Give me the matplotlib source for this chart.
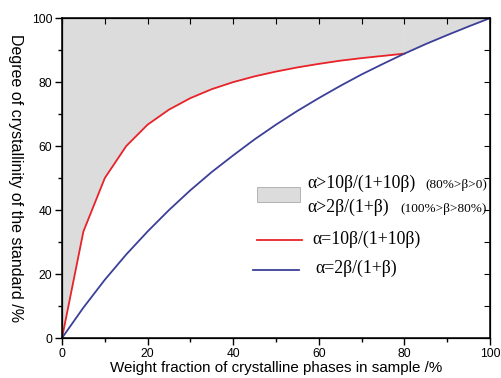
import matplotlib
matplotlib.use("Agg")
import matplotlib.pyplot as plt
import numpy as np
from matplotlib.patches import Rectangle
from matplotlib.ticker import MultipleLocator

# values
beta_red = [0, 5, 10, 15, 20, 25, 30, 35, 40, 45, 50, 55, 60, 65, 70, 75, 80]
alpha_red = [0, 33.3, 50.0, 60.0, 66.7, 71.4, 75.0, 77.8, 80.0, 81.8, 83.3,
             84.6, 85.7, 86.7, 87.5, 88.2, 88.9]

beta_blue = [0, 5, 10, 15, 20, 25, 30, 35, 40, 45, 50, 55, 60, 65, 70, 75, 80,
             85, 90, 95, 100]
alpha_blue = [0, 9.5, 18.2, 26.1, 33.3, 40.0, 46.2, 51.9, 57.1, 62.1, 66.7,
              71.0, 75.0, 78.8, 82.4, 85.7, 88.9, 91.9, 94.7, 97.4, 100]

red = "#e8232a"
blue = "#3c3f98"
grey = "#dcdcdc"

plt.rcParams['font.family'] = ['Liberation Sans', 'DejaVu Sans']

fig = plt.figure(figsize=(5.02, 3.78), dpi=100)
ax = fig.add_axes([0.1235, 0.1058, 0.8525, 0.8462])

# shaded region above the curves
ax.fill_between(beta_red, alpha_red, 100, color=grey, lw=0)
bb = np.array(beta_blue)
ab = np.array(alpha_blue)
m = bb >= 80
ax.fill_between(bb[m], ab[m], 100, color=grey, lw=0)

ax.plot(beta_red, alpha_red, color=red, lw=1.3)
ax.plot(beta_blue, alpha_blue, color=blue, lw=1.3)

ax.set_xlim(0, 100)
ax.set_ylim(0, 100)
ax.xaxis.set_major_locator(MultipleLocator(20))
ax.xaxis.set_minor_locator(MultipleLocator(10))
ax.yaxis.set_major_locator(MultipleLocator(20))
ax.yaxis.set_minor_locator(MultipleLocator(10))
ax.tick_params(which='both', direction='out', labelsize=8.7, width=1, pad=2,
               top=False, right=False)
ax.tick_params(which='major', length=5)
ax.tick_params(which='minor', length=3)
for s in ax.spines.values():
    s.set_linewidth(1.1)

# inward ticks on top and right spines
axt = ax.twiny()
axt.set_xlim(0, 100)
axt.xaxis.set_major_locator(MultipleLocator(10))
axt.tick_params(direction='in', length=4, labeltop=False)
axr = ax.twinx()
axr.set_ylim(0, 100)
axr.yaxis.set_major_locator(MultipleLocator(10))
axr.tick_params(direction='in', length=4, labelright=False)

ax.set_xlabel("Weight fraction of crystalline phases in sample /%", fontsize=10.9, labelpad=1)
fig.text(0.03, 0.53, "Degree of crystallinity of the standard /%", rotation=270,
         ha='center', va='center', fontsize=11.5)

# legend drawn by hand
serif = ['Liberation Serif', 'DejaVu Serif']
tr = ax.transAxes
def ax_xy(px, py):
    return ((px - 62) / 428, (338 - py) / 320)

x0, y0 = ax_xy(257, 202)
x1, y1 = ax_xy(300, 187)
ax.add_patch(Rectangle((x0, y0), x1 - x0, y1 - y0, transform=tr,
                       facecolor=grey, edgecolor='#aaaaaa', lw=0.6, zorder=5))
for px, py, txt, fs in [(307, 183, "α>10β/(1+10β)", 12.8),
                        (425, 185, "(80%>β>0)", 9.5),
                        (307, 207, "α>2β/(1+β)", 12.8),
                        (400, 209, "(100%>β>80%)", 9.5),
                        (312, 239, "α=10β/(1+10β)", 12.8),
                        (315, 268, "α=2β/(1+β)", 12.8)]:
    tx, ty = ax_xy(px, py)
    ax.text(tx, ty, txt, transform=tr, fontsize=fs, family=serif,
            ha='left', va='center', zorder=6)

for py, col, xa, xb in [(240, red, 257, 302), (270, blue, 253, 299)]:
    xa_, ya_ = ax_xy(xa, py)
    xb_, _ = ax_xy(xb, py)
    ax.plot([xa_, xb_], [ya_, ya_], transform=tr, color=col, lw=1.3)

fig.savefig("out.png", dpi=100)
